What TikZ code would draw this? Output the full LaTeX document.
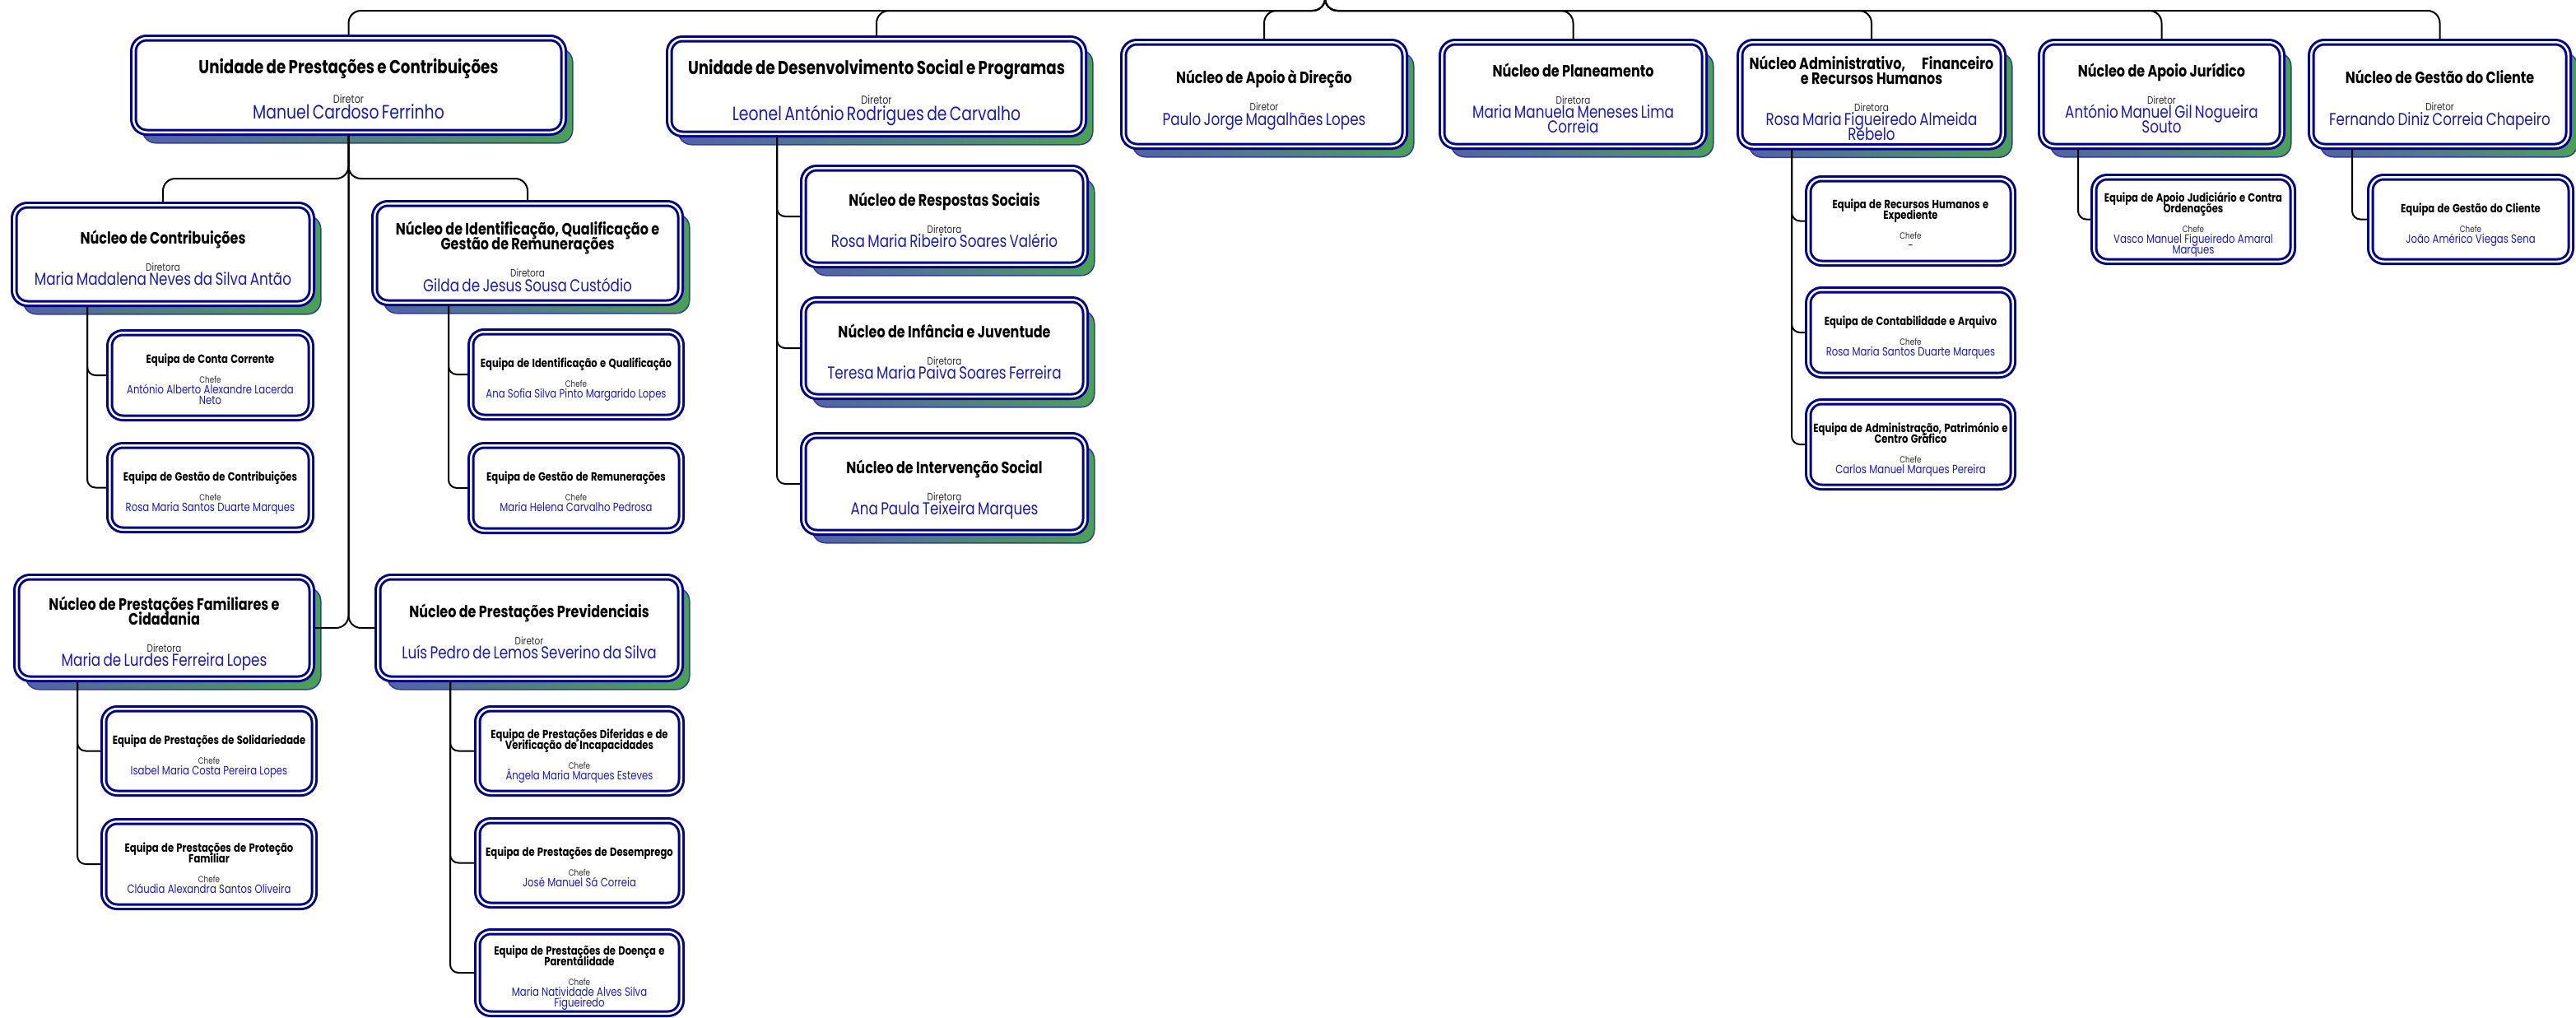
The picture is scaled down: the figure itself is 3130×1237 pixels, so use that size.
\documentclass[tikz,border=0pt]{standalone}
\usepackage{fontspec}
\setmainfont{Poppins}[FakeStretch=0.8]
\usepackage{xcolor}
\definecolor{boxnavy}{RGB}{0,0,128}
\definecolor{namecol}{RGB}{30,30,155}
\definecolor{rolecol}{RGB}{45,45,45}
\definecolor{shblue}{RGB}{82,98,168}
\definecolor{shgreen}{RGB}{76,160,88}
\definecolor{shnavy}{RGB}{50,60,150}
\usepackage{tikz}
\setlength{\parindent}{0pt}
\hyphenpenalty=10000
\exhyphenpenalty=10000

% box contents: title, role, name (fixed baselines)
\newcommand{\unidtxt}[3]{\lineskiplimit=-100pt
  {\fontsize{22.8}{20}\selectfont\bfseries\rule{0pt}{35pt}#1\par}%
  {\fontsize{14}{36}\selectfont\leavevmode\color{rolecol}#2\par}%
  {\fontsize{23.5}{19.5}\selectfont\leavevmode\color{namecol}#3\rule[-8pt]{0pt}{8pt}\par}}
\newcommand{\nuctxt}[3]{\lineskiplimit=-100pt
  {\fontsize{20}{18}\selectfont\bfseries\rule{0pt}{33pt}#1\par}%
  {\fontsize{13}{33}\selectfont\leavevmode\color{rolecol}#2\par}%
  {\fontsize{21}{17.5}\selectfont\leavevmode\color{namecol}#3\rule[-8pt]{0pt}{8pt}\par}}
\newcommand{\eqtxt}[3]{\lineskiplimit=-100pt
  {\fontsize{14.5}{13}\selectfont\bfseries\rule{0pt}{26pt}#1\par}%
  {\fontsize{11}{24}\selectfont\leavevmode\color{rolecol}#2\par}%
  {\fontsize{14.6}{13}\selectfont\leavevmode\color{namecol}#3\rule[-6pt]{0pt}{6pt}\par}}

\tikzset{
  box/.style={draw=boxnavy, double=white, double distance=2.5pt, line width=3pt,
    rounded corners=16pt, fill=white, align=center, inner sep=0pt,
    outer sep=4.25pt, anchor=north west},
  boxsize/.style 2 args={minimum width=#1pt-8.5pt, minimum height=#2pt-8.5pt,
    text width=#1pt-14pt},
  shadowed/.style={preaction={left color=shblue, right color=shgreen, draw=shnavy,
    line width=1.5pt, transform canvas={xshift=11pt, yshift=-13pt}}},
  unid/.style={box, shadowed},
  nuc/.style={box, shadowed},
  eq/.style={box},
  conn/.style={draw=black, line width=2pt, rounded corners=15pt},
  subconn/.style={draw=black, line width=2pt, rounded corners=10pt}
}

\begin{document}
\begin{tikzpicture}[x=1pt, y=-1pt]
  \fill[white] (0,0) rectangle (3130,1237);
  \useasboundingbox (0,0) rectangle (3130,1237);

  % top row
  \node[unid, boxsize={531}{123}] (A) at (158,42)
    {\unidtxt{Unidade de Prestações e Contribuições}{Diretor}{Manuel Cardoso Ferrinho}};
  \node[unid, boxsize={512}{124}] (B) at (809,43)
    {\unidtxt{Unidade de Desenvolvimento Social e Programas}{Diretor}{Leonel António Rodrigues de Carvalho}};
  \node[nuc, boxsize={350}{135}] (C) at (1361,47)
    {\nuctxt{Núcleo de Apoio à Direção}{Diretor}{Paulo Jorge Magalhães Lopes}};
  \node[nuc, boxsize={327}{135}] (D) at (1748,47)
    {\nuctxt{Núcleo de Planeamento}{Diretora}{Maria Manuela Meneses Lima\\Correia}};
  \node[nuc, boxsize={328}{135}] (E) at (2110,47)
    {\nuctxt{Núcleo Administrativo,\quad Financeiro\\e Recursos Humanos}{Diretora}{Rosa Maria Figueiredo Almeida\\Rebelo}};
  \node[nuc, boxsize={301}{135}] (F) at (2476,47)
    {\nuctxt{Núcleo de Apoio Jurídico}{Diretor}{António Manuel Gil Nogueira\\Souto}};
  \node[nuc, boxsize={321}{135}] (G) at (2804,47)
    {\nuctxt{Núcleo de Gestão do Cliente}{Diretor}{Fernando Diniz Correia Chapeiro}};

  % Unidade de Prestações e Contribuições
  \node[nuc, boxsize={370}{128}] (A1) at (13,245)
    {\nuctxt{Núcleo de Contribuições}{Diretora}{Maria Madalena Neves da Silva Antão}};
  \node[nuc, boxsize={380}{129}] (A2) at (451,243)
    {\nuctxt{Núcleo de Identificação, Qualificação e\\Gestão de Remunerações}{Diretora}{Gilda de Jesus Sousa Custódio}};
  \node[nuc, boxsize={367}{132}] (A3) at (16,697)
    {\nuctxt{Núcleo de Prestações Familiares e\\Cidadania}{Diretora}{Maria de Lurdes Ferreira Lopes}};
  \node[nuc, boxsize={376}{132}] (A4) at (455,697)
    {\nuctxt{Núcleo de Prestações Previdenciais}{Diretor}{Luís Pedro de Lemos Severino da Silva}};

  \node[eq, boxsize={253}{112}] (A1a) at (129,400)
    {\eqtxt{Equipa de Conta Corrente}{Chefe}{António Alberto Alexandre Lacerda\\Neto}};
  \node[eq, boxsize={253}{111}] (A1b) at (129,537)
    {\eqtxt{Equipa de Gestão de Contribuições}{Chefe}{Rosa Maria Santos Duarte Marques}};
  \node[eq, boxsize={264}{112}] (A2a) at (568,399)
    {\eqtxt{Equipa de Identificação e Qualificação}{Chefe}{Ana Sofia Silva Pinto Margarido Lopes}};
  \node[eq, boxsize={264}{112}] (A2b) at (568,537)
    {\eqtxt{Equipa de Gestão de Remunerações}{Chefe}{Maria Helena Carvalho Pedrosa}};
  \node[eq, boxsize={264}{111}] (A3a) at (122,857)
    {\eqtxt{Equipa de Prestações de Solidariedade}{Chefe}{Isabel Maria Costa Pereira Lopes}};
  \node[eq, boxsize={264}{112}] (A3b) at (122,994)
    {\eqtxt{Equipa de Prestações de Proteção\\Familiar}{Chefe}{Cláudia Alexandra Santos Oliveira}};
  \node[eq, boxsize={256}{111}] (A4a) at (576,857)
    {\eqtxt{Equipa de Prestações Diferidas e de\\Verificação de Incapacidades}{Chefe}{Ângela Maria Marques Esteves}};
  \node[eq, boxsize={256}{111}] (A4b) at (576,993)
    {\eqtxt{Equipa de Prestações de Desemprego}{Chefe}{José Manuel Sá Correia}};
  \node[eq, boxsize={256}{108}] (A4c) at (576,1128)
    {\eqtxt{Equipa de Prestações de Doença e\\Parentalidade}{Chefe}{Maria Natividade Alves Silva\\Figueiredo}};

  % Unidade de Desenvolvimento Social e Programas
  \node[nuc, boxsize={351}{126}] (B1) at (972,200)
    {\nuctxt{Núcleo de Respostas Sociais}{Diretora}{Rosa Maria Ribeiro Soares Valério}};
  \node[nuc, boxsize={351}{126}] (B2) at (972,360)
    {\nuctxt{Núcleo de Infância e Juventude}{Diretora}{Teresa Maria Paiva Soares Ferreira}};
  \node[nuc, boxsize={351}{126}] (B3) at (972,525)
    {\nuctxt{Núcleo de Intervenção Social}{Diretora}{Ana Paula Teixeira Marques}};

  % equipas of the other nucleos
  \node[eq, boxsize={257}{111}] (E1) at (2193,213)
    {\eqtxt{Equipa de Recursos Humanos e\\Expediente}{Chefe}{-}};
  \node[eq, boxsize={257}{112}] (E2) at (2193,348)
    {\eqtxt{Equipa de Contabilidade e Arquivo}{Chefe}{Rosa Maria Santos Duarte Marques}};
  \node[eq, boxsize={257}{112}] (E3) at (2193,484)
    {\eqtxt{Equipa de Administração, Património e\\Centro Gráfico}{Chefe}{Carlos Manuel Marques Pereira}};
  \node[eq, boxsize={250}{111}] (F1) at (2540,211)
    {\eqtxt{Equipa de Apoio Judiciário e Contra\\Ordenações}{Chefe}{Vasco Manuel Figueiredo Amaral\\Marques}};
  \node[eq, boxsize={252}{111}] (G1) at (2876,211)
    {\eqtxt{Equipa de Gestão do Cliente}{Chefe}{João Américo Viegas Sena}};

  % connectors
  \coordinate (top) at (1610,-12);
  \coordinate (bar) at (1610,13);
  \foreach \n in {A,B,C,D,E,F,G}
    \draw[conn] (top) -- (bar) -| (\n.north);

  \draw[conn] (A.south) -- ++(0,52) -| (A1.north);
  \draw[conn] (A.south) -- ++(0,52) -| (A2.north);
  \draw[conn] (A.south) |- (A3.east);
  \draw[conn] (A.south) |- (A4.west);

  \coordinate (tA1) at (106,0);
  \coordinate (tA2) at (545,0);
  \coordinate (tA3) at (94,0);
  \coordinate (tA4) at (547,0);
  \coordinate (tB) at (944,0);
  \coordinate (tE) at (2177,0);
  \coordinate (tF) at (2525,0);
  \coordinate (tG) at (2858,0);
  \foreach \p/\c in {A1/A1a, A1/A1b, A2/A2a, A2/A2b, A3/A3a, A3/A3b,
                     A4/A4a, A4/A4b, A4/A4c, B/B1, B/B2, B/B3,
                     E/E1, E/E2, E/E3, F/F1, G/G1}
    \draw[subconn] (\p.south -| t\p) |- (\c.west);
\end{tikzpicture}
\end{document}
